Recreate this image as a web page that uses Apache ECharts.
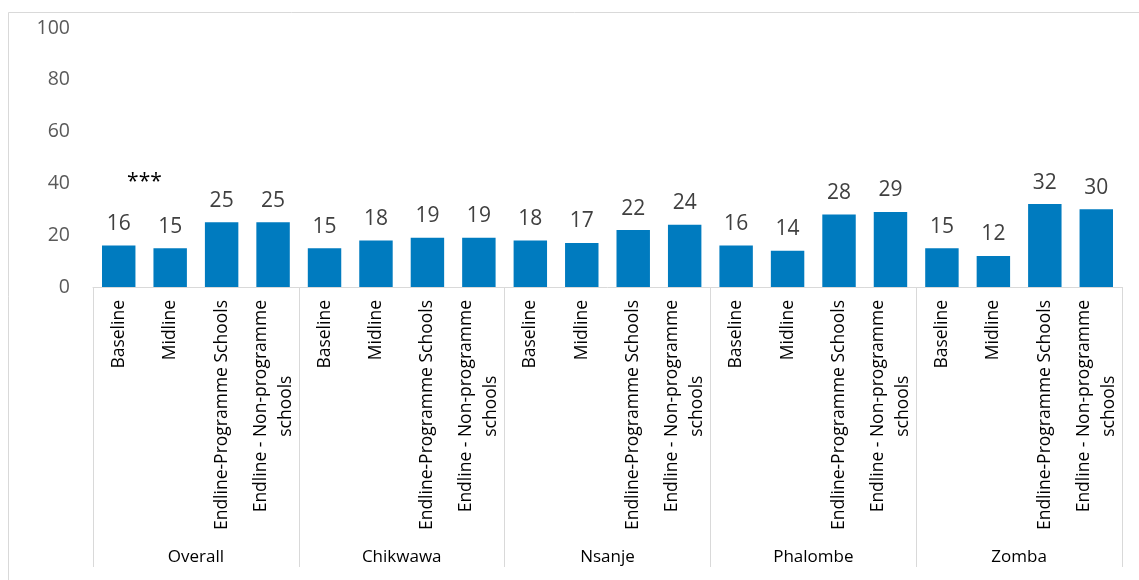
<!DOCTYPE html>
<html>
<head>
<meta charset="utf-8">
<script src="https://cdn.jsdelivr.net/npm/echarts@6/dist/echarts.min.js"></script>
<style>
  html, body { margin: 0; padding: 0; background: #fff; }
  #chart { width: 1139px; height: 580px; }
</style>
</head>
<body>
<div id="chart"></div>
<script>
// Districts (outer axis level) and survey rounds (inner axis level)
const groups = ['Overall', 'Chikwawa', 'Nsanje', 'Phalombe', 'Zomba'];
const rounds = ['Baseline', 'Midline', 'Endline-Programme Schools', 'Endline - Non-programme\nschools'];

// Percentage values per district, in the order of `rounds`
const overall  = [16, 15, 25, 25];
const chikwawa = [15, 18, 19, 19];
const nsanje   = [18, 17, 22, 24];
const phalombe = [16, 14, 28, 29];
const zomba    = [15, 12, 32, 30];

const yTicks = [0, 20, 40, 60, 80, 100];
const significance = '***';

const values = [].concat(overall, chikwawa, nsanje, phalombe, zomba);
const categories = [];
groups.forEach(function (g) {
  rounds.forEach(function (r) { categories.push(r); });
});

const FONT = '"Open Sans", "Noto Sans", sans-serif';
const chart = echarts.init(document.getElementById('chart'));

const frame = {
  type: 'rect',
  shape: { x: 8.5, y: 12.5, width: 1200, height: 700 },
  style: { fill: 'none', stroke: '#d9d9d9', lineWidth: 1 },
  silent: true,
  z: -10
};

chart.setOption({
  animation: false,
  backgroundColor: '#ffffff',
  grid: { left: 93, right: 17, top: 28, bottom: 293, containLabel: false },
  xAxis: [
    {
      type: 'category',
      data: categories,
      position: 'bottom',
      axisLine: { show: true, lineStyle: { color: '#d9d9d9', width: 1 } },
      axisTick: { show: false },
      axisLabel: {
        interval: 0,
        rotate: 90,
        margin: 13,
        color: '#000000',
        fontFamily: FONT,
        fontSize: 17,
        formatter: function (v) {
          return v.split('\n').map(function (s) { return '{c|' + s + '}'; }).join('\n');
        },
        rich: {
          c: { align: 'center', fontFamily: FONT, fontSize: 17.5, color: '#000000', lineHeight: 25 }
        }
      }
    },
    {
      type: 'category',
      data: groups,
      position: 'bottom',
      offset: 0,
      axisLine: { show: false },
      axisTick: { show: true, length: 280, lineStyle: { color: '#d9d9d9', width: 1 } },
      axisLabel: {
        interval: 0,
        margin: 262,
        color: '#000000',
        fontFamily: FONT,
        fontSize: 17
      }
    }
  ],
  yAxis: {
    type: 'value',
    min: yTicks[0],
    max: yTicks[yTicks.length - 1],
    interval: yTicks[1] - yTicks[0],
    axisLine: { show: false },
    axisTick: { show: false },
    splitLine: { show: false },
    axisLabel: { color: '#595959', fontFamily: FONT, fontSize: 19.5, margin: 23 }
  },
  series: [
    {
      type: 'bar',
      xAxisIndex: 0,
      data: values,
      barWidth: '65%',
      itemStyle: { color: '#007bbf' },
      label: {
        show: true,
        position: 'top',
        distance: 11,
        color: '#404040',
        fontFamily: FONT,
        fontSize: 21
      }
    }
  ],
  graphic: [frame]
});

// Significance marker placed between the first two Overall bars
const p0 = chart.convertToPixel({ xAxisIndex: 0, yAxisIndex: 0 }, [0, 40.5]);
const p1 = chart.convertToPixel({ xAxisIndex: 0, yAxisIndex: 0 }, [1, 40.5]);
chart.setOption({
  graphic: [
    frame,
    {
      type: 'text',
      x: (p0[0] + p1[0]) / 2,
      y: p0[1],
      style: {
        text: significance,
        fill: '#000000',
        font: '21px ' + FONT,
        textAlign: 'center',
        textVerticalAlign: 'middle'
      }
    }
  ]
});
</script>
</body>
</html>
